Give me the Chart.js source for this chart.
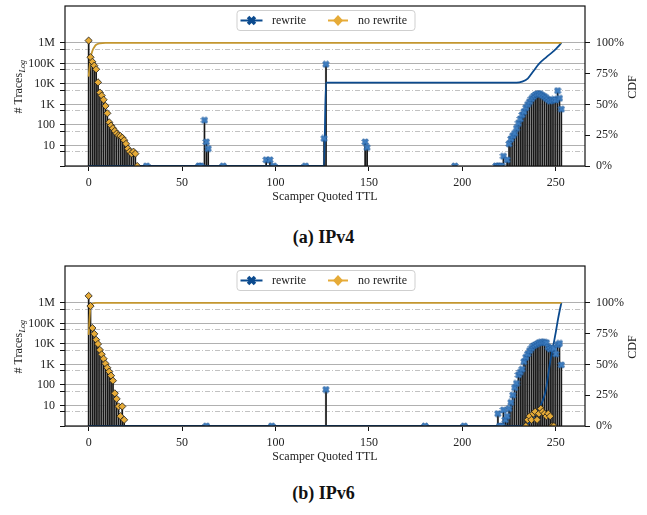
<!DOCTYPE html>
<html>
<head>
<meta charset="utf-8">
<script src="https://cdn.jsdelivr.net/npm/chart.js@4.4.1/dist/chart.umd.min.js"></script>
<style>
  html, body { margin: 0; padding: 0; background: #fff; }
  body { width: 647px; height: 515px; position: relative; overflow: hidden; font-family: "Liberation Serif", serif; }
  .panel { position: absolute; left: 0; width: 647px; height: 210px; }
  .caption { position: absolute; left: 0; width: 647px; text-align: center; font-weight: bold; font-size: 18px; line-height: 20px; color: #111; }
</style>
</head>
<body>
<div class="panel" style="top:0"><canvas id="chartV4" width="647" height="210"></canvas></div>
<div class="caption" style="top:227px">(a) IPv4</div>
<div class="panel" style="top:260px"><canvas id="chartV6" width="647" height="210"></canvas></div>
<div class="caption" style="top:483px">(b) IPv6</div>
<script>
// ---- IPv4: traces per quoted TTL ----
const v4NoRewriteTtl = [0, 1, 2, 3, 4, 5, 6, 7, 8, 9, 10, 11, 12, 13, 14, 15, 16, 17, 18, 19, 20, 21, 22, 23, 24, 25, 26];
const v4NoRewriteCount = [1300000, 200000, 120000, 78000, 52000, 12000, 3800, 2700, 1700, 850, 370, 135, 93, 69, 51, 38, 31, 29, 24, 18, 12, 7, 5, 4, 5, 4, 1];
const v4RewriteTtl = [31, 59, 60, 62, 63, 64, 72, 95, 97, 99, 116, 126, 127, 148, 149, 196, 218, 219, 220, 221, 222, 224,
  225, 226, 227, 228, 229, 230, 231, 232, 233, 234, 235, 236, 237, 238, 239, 240, 241, 242, 243, 244, 245, 246, 247, 248, 249, 250, 251, 252, 253];
const v4RewriteCount = [1, 1, 1, 170, 15, 7, 1, 2, 2, 1, 1, 22, 91000, 15, 8, 1, 1, 1, 1, 1, 3, 2,
  12, 21, 30, 39, 69, 120, 195, 310, 445, 700, 1000, 1370, 1860, 2400, 2900, 3250, 3380, 3100, 2700, 2400, 2000, 1700, 1450, 1600, 1750, 1650, 4700, 2000, 590];
const v4NoRewriteCdfTtl = [0, 1, 2, 3, 4, 6, 9, 253];
const v4NoRewriteCdfPct = [72.6, 87, 93.5, 96.5, 98.5, 99.7, 100, 100];
const v4RewriteCdfTtl = [0, 126, 127, 229, 232, 235, 238, 241, 245, 249, 251, 253];
const v4RewriteCdfPct = [0, 0, 67.7, 67.7, 68.5, 71, 77, 83, 88.5, 93.5, 96.5, 100];

// ---- IPv6 ----
const v6NoRewriteTtl = [0, 1, 2, 3, 4, 5, 6, 7, 8, 9, 10, 11, 12, 13, 14, 15, 16, 17, 18, 19,
  234, 235, 236, 237, 238, 239, 240, 241, 242, 243, 244, 245, 246, 247, 248, 249];
const v6NoRewriteCount = [2200000, 700000, 60000, 31000, 16000, 10000, 5100, 3100, 1900, 1100, 690, 445, 285, 162, 39, 21, 9, 3, 9, 2,
  1, 2, 3, 2, 4, 5, 2, 4, 7, 5, 4, 3, 4, 3, 1, 1];
const v6RewriteTtl = [63, 98, 127, 180, 201, 219, 220, 221, 222, 223, 224,
  225, 226, 227, 228, 229, 230, 231, 232, 233, 234, 235, 236, 237, 238, 239, 240, 241, 242, 243, 244, 245, 246, 247, 248, 249, 250, 251, 252, 253];
const v6RewriteCount = [1, 1, 60, 1, 1, 4, 1, 1, 6, 2, 3,
  7, 14, 32, 74, 120, 310, 415, 585, 1370, 2240, 3250, 4700, 6200, 7900, 9000, 10000, 11500, 12000, 12000, 12000, 11500, 7000, 5600, 6300, 6000, 3200, 9000, 10700, 950];
const v6NoRewriteCdfTtl = [0, 1, 2, 4, 253];
const v6NoRewriteCdfPct = [74, 97, 99.3, 100, 100];
const v6RewriteCdfTtl = [0, 231, 234, 236, 238, 240, 242, 244, 245, 246, 247, 248, 249, 250, 251, 252, 253];
const v6RewriteCdfPct = [0, 0, 1, 3, 7, 11, 17, 25, 32, 42, 52, 60, 68, 76, 85, 93, 100];

// axis ticks
const xTicks = [0, 50, 100, 150, 200, 250];
const countTicks = [1, 10, 100, 1000, 10000, 100000, 1000000];
const countMinorTicks = [5, 50, 500, 5000, 50000, 500000];
const countLabels = { 10: "10", 100: "100", 1000: "1K", 10000: "10K", 100000: "100K", 1000000: "1M" };
const cdfTicks = [0, 25, 50, 75, 100];

const BLUE_LINE = "#0b4a8e";
const BLUE_MARK = "#3f7fc2";
const GOLD_LINE = "#c4962f";
const GOLD_MARK = "#e6ab38";
const FONT = { family: "'Liberation Serif', serif", size: 12 };
const TEXT = "#222";

function makeXMarker(size, fill, edge, edgeWidth) {
    const c = document.createElement("canvas");
    c.width = size;
    c.height = size;
    const g = c.getContext("2d");
    const L = size / 2 - 0.6;
    const w = L * 0.36;
    g.translate(size / 2, size / 2);
    g.rotate(Math.PI / 4);
    const pts = [[w, L], [w, w], [L, w], [L, -w], [w, -w], [w, -L], [-w, -L], [-w, -w], [-L, -w], [-L, w], [-w, w], [-w, L]];
    g.beginPath();
    pts.forEach(([x, y], i) => (i ? g.lineTo(x, y) : g.moveTo(x, y)));
    g.closePath();
    g.fillStyle = fill;
    g.fill();
    if (edgeWidth) {
        g.lineWidth = edgeWidth;
        g.strokeStyle = edge;
        g.stroke();
    }
    return c;
}

const xMark = makeXMarker(8, BLUE_MARK, "#1d5596", 0.7);
const xMarkLegend = makeXMarker(11, BLUE_LINE, BLUE_LINE, 0);

function toPoints(xs, ys) {
    return xs.map((x, i) => ({ x, y: ys[i] }));
}

const frameAndText = {
    id: "frameAndText",
    afterDraw(chart) {
        const { ctx, chartArea: a } = chart;
        ctx.save();
        // axes frame
        ctx.strokeStyle = "#111";
        ctx.lineWidth = 1.2;
        ctx.strokeRect(a.left, a.top, a.right - a.left, a.bottom - a.top);

        // y titles
        ctx.fillStyle = TEXT;
        ctx.textBaseline = "middle";
        ctx.font = "12px 'Liberation Serif', serif";
        const main = "# Traces";
        const w1 = ctx.measureText(main).width;
        ctx.font = "italic 8px 'Liberation Serif', serif";
        const w2 = ctx.measureText("Log").width;
        ctx.save();
        ctx.translate(19, 87);
        ctx.rotate(-Math.PI / 2);
        ctx.font = "12px 'Liberation Serif', serif";
        ctx.textAlign = "left";
        ctx.fillText(main, -(w1 + w2) / 2, 0);
        ctx.font = "italic 8px 'Liberation Serif', serif";
        ctx.fillText("Log", -(w1 + w2) / 2 + w1 + 0.5, 3.5);
        ctx.restore();

        ctx.save();
        ctx.translate(633, 87);
        ctx.rotate(-Math.PI / 2);
        ctx.font = "12px 'Liberation Serif', serif";
        ctx.textAlign = "center";
        ctx.fillText("CDF", 0, 0);
        ctx.restore();

        // legend box
        const cx = (a.left + a.right) / 2;
        const bw = 178, bh = 20;
        const x0 = cx - bw / 2 + 1, y0 = a.top + 4.5;
        const my = y0 + bh / 2;
        ctx.beginPath();
        ctx.roundRect(x0, y0, bw, bh, 3);
        ctx.fillStyle = "rgba(255,255,255,0.85)";
        ctx.fill();
        ctx.strokeStyle = "#cfcfcf";
        ctx.lineWidth = 1;
        ctx.stroke();

        ctx.lineWidth = 2;
        ctx.strokeStyle = BLUE_LINE;
        ctx.beginPath();
        ctx.moveTo(x0 + 3.5, my);
        ctx.lineTo(x0 + 25.5, my);
        ctx.stroke();
        ctx.drawImage(xMarkLegend, x0 + 14.5 - 5.5, my - 5.5);

        ctx.strokeStyle = GOLD_MARK;
        ctx.beginPath();
        ctx.moveTo(x0 + 91, my);
        ctx.lineTo(x0 + 111, my);
        ctx.stroke();
        ctx.fillStyle = GOLD_MARK;
        ctx.beginPath();
        ctx.moveTo(x0 + 101, my - 5.5);
        ctx.lineTo(x0 + 106, my);
        ctx.lineTo(x0 + 101, my + 5.5);
        ctx.lineTo(x0 + 96, my);
        ctx.closePath();
        ctx.fill();

        ctx.fillStyle = TEXT;
        ctx.font = "12px 'Liberation Serif', serif";
        ctx.textAlign = "left";
        ctx.fillText("rewrite", x0 + 35, my + 0.5);
        ctx.fillText("no rewrite", x0 + 121, my + 0.5);
        ctx.restore();
    },
};

function drawPanel(canvasId, noRwTtl, noRwCount, rwTtl, rwCount, noRwCdfTtl, noRwCdfPct, rwCdfTtl, rwCdfPct) {
    const barStyle = {
        type: "bar",
        backgroundColor: "#161616",
        borderColor: "#9a9a9a",
        borderWidth: { left: 0.6, right: 0, top: 0, bottom: 0 },
        borderSkipped: false,
        barPercentage: 1,
        categoryPercentage: 1,
        grouped: false,
        yAxisID: "y",
        order: 3,
    };
    const isMinor = (ctx) => ctx.type === "tick" && ctx.tick && countMinorTicks.includes(ctx.tick.value);

    return new Chart(document.getElementById(canvasId), {
        type: "bar",
        data: {
            datasets: [
                Object.assign({ data: toPoints(noRwTtl, noRwCount) }, barStyle),
                Object.assign({ data: toPoints(rwTtl, rwCount) }, barStyle),
                {
                    type: "line",
                    data: toPoints(noRwCdfTtl, noRwCdfPct),
                    borderColor: GOLD_LINE,
                    borderWidth: 1.8,
                    pointRadius: 0,
                    cubicInterpolationMode: "monotone",
                    yAxisID: "y2",
                    order: 2,
                },
                {
                    type: "line",
                    data: toPoints(rwCdfTtl, rwCdfPct),
                    borderColor: BLUE_LINE,
                    borderWidth: 1.8,
                    pointRadius: 0,
                    cubicInterpolationMode: "monotone",
                    yAxisID: "y2",
                    order: 2,
                },
                {
                    type: "line",
                    data: toPoints(noRwTtl, noRwCount),
                    showLine: false,
                    pointStyle: "rectRot",
                    pointRadius: 3.6,
                    pointBackgroundColor: GOLD_MARK,
                    pointBorderColor: "#1a1a1a",
                    pointBorderWidth: 0.8,
                    yAxisID: "y",
                    order: 1,
                },
                {
                    type: "line",
                    data: toPoints(rwTtl, rwCount),
                    showLine: false,
                    pointStyle: xMark,
                    pointRadius: 4,
                    yAxisID: "y",
                    order: 1,
                },
            ],
        },
        options: {
            responsive: false,
            animation: false,
            events: [],
            layout: { padding: { top: 6, left: 0, right: 0, bottom: 0 } },
            plugins: { legend: { display: false }, tooltip: { enabled: false } },
            scales: {
                x: {
                    type: "linear",
                    offset: false,
                    min: -12.65,
                    max: 265.65,
                    afterBuildTicks: (s) => { s.ticks = xTicks.map((v) => ({ value: v })); },
                    ticks: { font: FONT, color: TEXT, padding: 4.5, maxRotation: 0, autoSkip: false },
                    grid: { offset: false, drawOnChartArea: false, tickLength: 5, tickColor: "#111", tickWidth: 1 },
                    border: { display: false },
                    title: { display: true, text: "Scamper Quoted TTL", font: FONT, color: TEXT, padding: { top: 0, bottom: 6 } },
                    afterFit: (s) => { s.height = 44; s.paddingLeft = 0; s.paddingRight = 0; },
                },
                y: {
                    type: "logarithmic",
                    position: "left",
                    min: 1,
                    max: Math.pow(10, 7.8),
                    afterBuildTicks: (s) => {
                        s.ticks = countTicks.concat(countMinorTicks).map((v) => ({ value: v }));
                    },
                    ticks: {
                        font: FONT,
                        color: TEXT,
                        padding: 5,
                        autoSkip: false,
                        callback: (v) => countLabels[v] || "",
                    },
                    grid: {
                        color: (ctx) => (isMinor(ctx) ? "#c2c2c2" : "#b0b0b0"),
                        lineWidth: 1,
                        tickLength: 5,
                        tickColor: "#111",
                    },
                    border: { display: false, dash: (ctx) => (isMinor(ctx) ? [5, 2, 1, 2] : []) },
                    afterFit: (s) => { s.width = 65; s.paddingTop = 0; s.paddingBottom = 0; },
                },
                y2: {
                    type: "linear",
                    position: "right",
                    min: 0,
                    max: 130,
                    afterBuildTicks: (s) => { s.ticks = cdfTicks.map((v) => ({ value: v })); },
                    ticks: { font: FONT, color: TEXT, padding: 6, callback: (v) => v + "%" },
                    grid: { drawOnChartArea: false, tickLength: 5, tickColor: "#111" },
                    border: { display: false },
                    afterFit: (s) => { s.width = 62; s.paddingTop = 0; s.paddingBottom = 0; },
                },
            },
        },
        plugins: [frameAndText],
    });
}

drawPanel("chartV4", v4NoRewriteTtl, v4NoRewriteCount, v4RewriteTtl, v4RewriteCount,
    v4NoRewriteCdfTtl, v4NoRewriteCdfPct, v4RewriteCdfTtl, v4RewriteCdfPct);
drawPanel("chartV6", v6NoRewriteTtl, v6NoRewriteCount, v6RewriteTtl, v6RewriteCount,
    v6NoRewriteCdfTtl, v6NoRewriteCdfPct, v6RewriteCdfTtl, v6RewriteCdfPct);
</script>
</body>
</html>
